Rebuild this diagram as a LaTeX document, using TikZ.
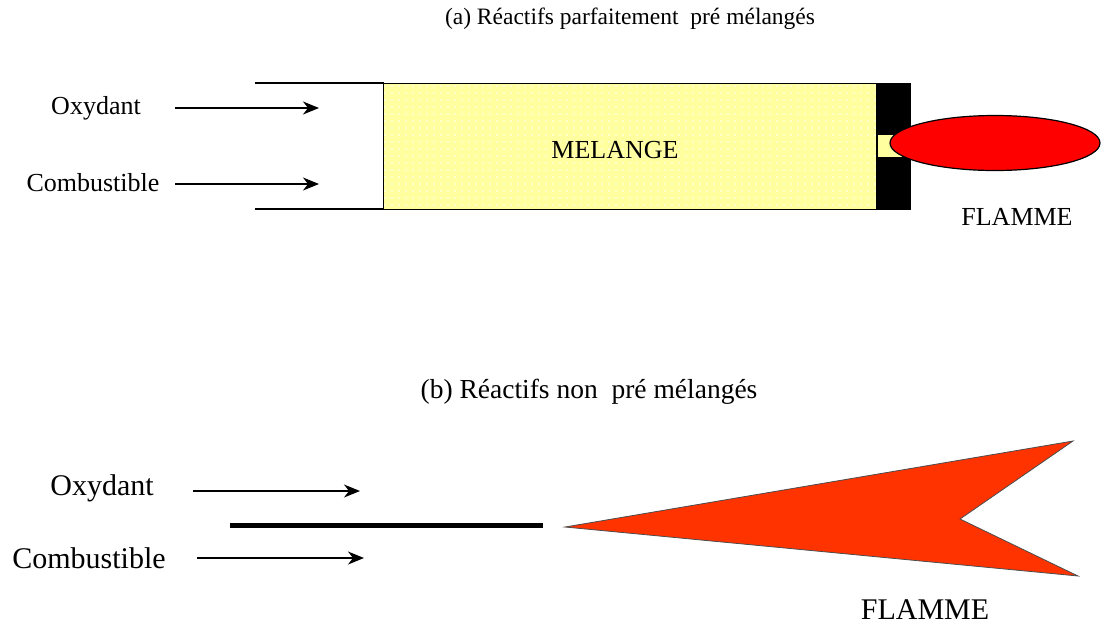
\documentclass[tikz,border=0pt]{standalone}
\usepackage{fontspec}
\setmainfont{Liberation Serif}
\usetikzlibrary{arrows.meta,patterns.meta,shapes.geometric}
\definecolor{mixyellow}{RGB}{255,255,160}
\definecolor{flamered}{RGB}{255,0,0}
\definecolor{flameorange}{RGB}{255,51,0}
\tikzset{
  lbl/.style={inner sep=0pt, font=\fontsize{26}{29}\selectfont},
  lblb/.style={inner sep=0pt, font=\fontsize{30}{33}\selectfont},
  ttl/.style={inner sep=0pt, font=\fontsize{23.5}{26}\selectfont},
  ttlb/.style={inner sep=0pt, font=\fontsize{27.5}{30}\selectfont},
  flow/.style={line width=1.3pt, -{Stealth[length=16pt,width=13pt,inset=5pt]}},
  wall/.style={line width=1.6pt},
}
\begin{document}
\begin{tikzpicture}[x=1pt,y=-1pt]
\useasboundingbox (0,0) rectangle (1102,625);

% ---------- (a) premixed ----------
\node[ttl] (ta) at (630,19) {(a) Réactifs parfaitement~~pré mélangés};

% channel walls
\coordinate (wt0) at (255,83);
\coordinate (wb0) at (255,209);
\draw[wall] (wt0) -- (384,83);
\draw[wall] (wb0) -- (384,209);

% mixture chamber
\node[draw, line width=1.2pt, fill=mixyellow, minimum width=494pt, minimum height=126pt,
      inner sep=0pt, anchor=north west] (mix) at (383,83) {};
\fill[pattern={Dots[distance=7pt,radius=0.8pt]}, pattern color=white]
  (mix.north west) rectangle (mix.south east);
\node[lbl] (melange) at (615,150) {MELANGE};

% burner head with slot
\node[fill=black, draw=black, minimum width=34pt, minimum height=126pt, inner sep=0pt,
      anchor=north west] (head) at (876,83) {};
\node[fill=mixyellow, minimum width=24pt, minimum height=22pt, inner sep=0pt,
      anchor=west] (slot) at (878,146) {};

% premixed flame
\node[ellipse, draw=black, line width=1.2pt, fill=flamered, minimum width=210pt,
      minimum height=55pt, inner sep=0pt] (fa) at (995,143) {};
\node[lbl] (flammea) at (1017,217) {FLAMME};

% inlets
\node[lbl] (oxa) at (96,108) {Oxydant};
\node[lbl] (coa) at (93,183) {Combustible};
\coordinate (oxa1) at (175,108);
\coordinate (oxa2) at (319,108);
\coordinate (coa1) at (175,184);
\coordinate (coa2) at (319,184);
\draw[flow] (oxa1) -- (oxa2);
\draw[flow] (coa1) -- (coa2);

% ---------- (b) non premixed ----------
\node[ttlb] (tb) at (589,392) {(b) Réactifs non~~pré mélangés};

\node[lblb] (oxb) at (102,488) {Oxydant};
\node[lblb] (cob) at (89,558) {Combustible};
\coordinate (oxb1) at (193,491);
\coordinate (oxb2) at (360,491);
\coordinate (cob1) at (197,558);
\coordinate (cob2) at (364,558);
\draw[flow] (oxb1) -- (oxb2);
\draw[flow] (cob1) -- (cob2);

% splitter plate
\coordinate (pl1) at (230,525);
\coordinate (pl2) at (543,525);
\draw[line width=5pt] (pl1) -- (pl2);

% diffusion flame
\coordinate (ftip) at (565,527);
\coordinate (ftop) at (1073,441);
\coordinate (fnotch) at (960,519);
\coordinate (fbot) at (1078,576);
\draw[fill=flameorange, draw=black!70, line width=0.8pt, line join=miter]
  (ftip) -- (ftop) -- (fnotch) -- (fbot) -- cycle;
\node[lblb] (flammeb) at (925,610) {FLAMME};

\end{tikzpicture}
\end{document}
